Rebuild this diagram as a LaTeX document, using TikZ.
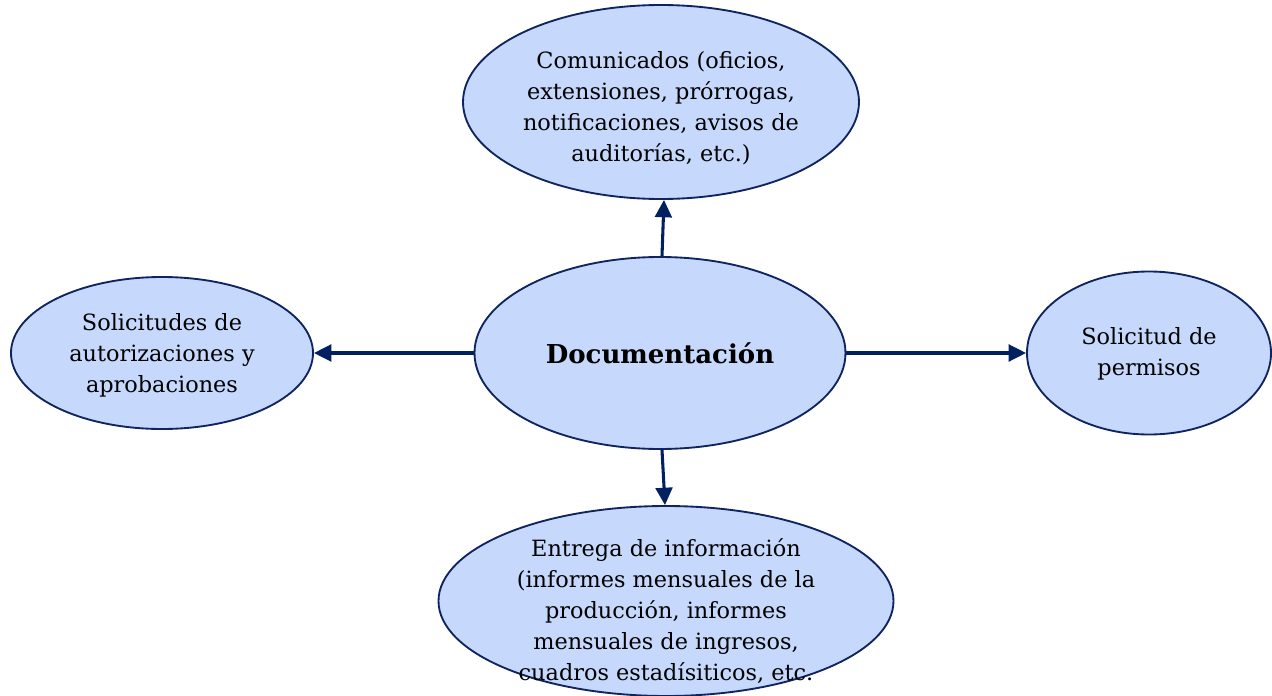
\documentclass[tikz,border=0pt]{standalone}
\usepackage{fontspec}
\setmainfont{DejaVu Serif}
\usetikzlibrary{arrows.meta,shapes.geometric}
\definecolor{bubble}{RGB}{198,217,252}
\definecolor{rim}{RGB}{16,36,96}
\definecolor{arrowc}{RGB}{0,32,96}
\tikzset{
  bub/.style={ellipse,draw=rim,fill=bubble,line width=1.4pt,inner sep=0pt},
  lbl/.style={align=center,font=\fontsize{16.8}{23.2}\selectfont,text=black},
  conn/.style={draw=arrowc,line width=2.3pt,-{Triangle[length=13pt,width=12.5pt]}}
}
\begin{document}
\begin{tikzpicture}[x=0.75pt,y=-0.75pt]
\useasboundingbox (0,0) rectangle (1272,696);
\node[bub,minimum width=396*0.75pt,minimum height=194*0.75pt] (t) at (661,102) {};
\node[bub,minimum width=371*0.75pt,minimum height=192*0.75pt] (c) at (660,353) {};
\node[bub,minimum width=302*0.75pt,minimum height=152*0.75pt] (l) at (162,353) {};
\node[bub,minimum width=244*0.75pt,minimum height=163*0.75pt] (r) at (1149,353) {};
\node[bub,minimum width=455*0.75pt,minimum height=190*0.75pt] (b) at (666,601) {};
\node[lbl] (tl) at (661,108) {Comunicados (oficios,\\extensiones, prórrogas,\\notificaciones, avisos de\\auditorías, etc.)};
\node[lbl,font=\bfseries\fontsize{19.5}{22}\selectfont] (cl) at (660,353) {Documentación};
\node[lbl] (ll) at (162,355) {Solicitudes de\\autorizaciones y\\aprobaciones};
\node[lbl] (rl) at (1149,354) {Solicitud de\\permisos};
\node[lbl] (bl) at (666,611) {Entrega de información\\(informes mensuales de la\\producción, informes\\mensuales de ingresos,\\cuadros estadísiticos, etc.};
\draw[conn] ([xshift=1.5pt]c.north) -- ([xshift=2.25pt]t.south);
\draw[conn] ([xshift=1.5pt]c.south) -- ([xshift=-0.75pt]b.north);
\draw[conn] (c.west) -- (l.east);
\draw[conn] (c.east) -- (r.west);
\end{tikzpicture}
\end{document}
